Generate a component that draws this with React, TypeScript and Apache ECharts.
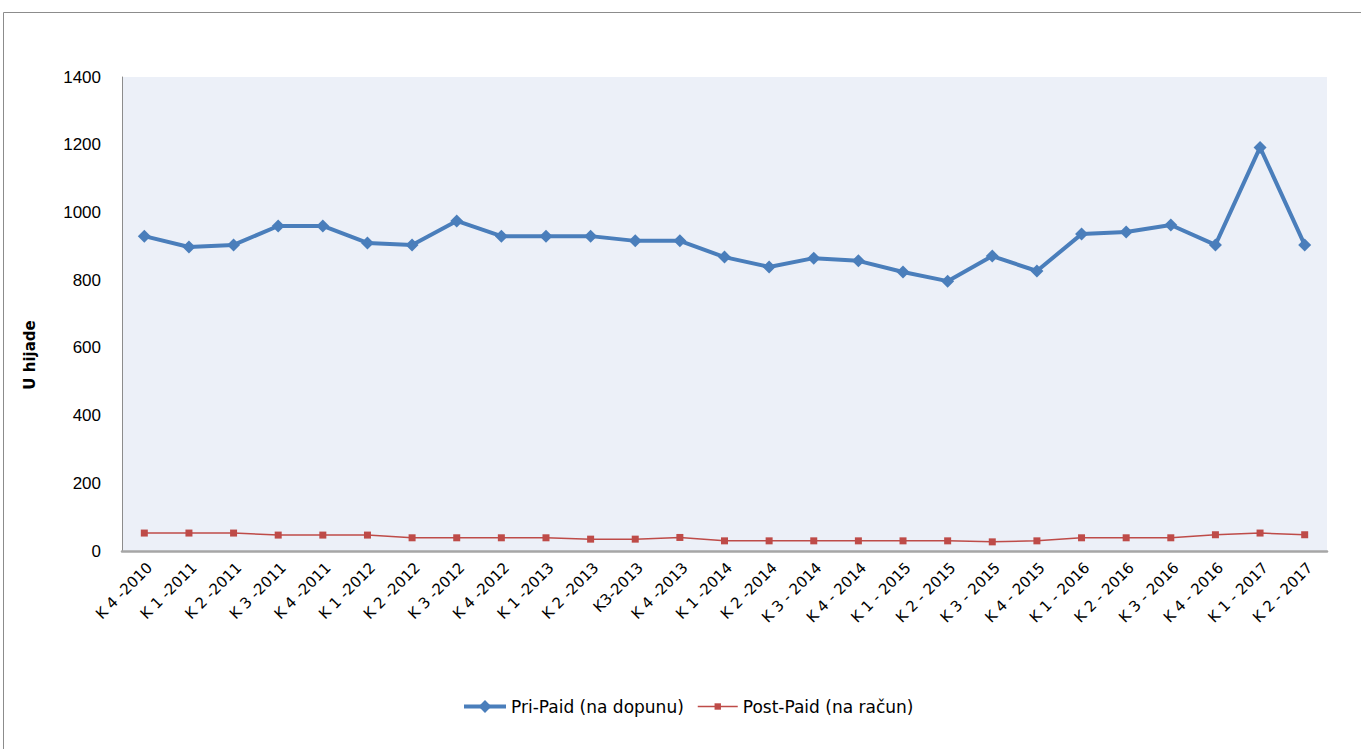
import React, { useEffect, useRef } from "react";
import * as echarts from "echarts";

const categories = [
  "K 4 -2010", "K 1 -2011", "K 2 -2011", "K 3 -2011", "K 4 -2011",
  "K 1 -2012", "K 2 -2012", "K 3 -2012", "K 4 -2012", "K 1 -2013",
  "K 2 -2013", "K3-2013", "K 4 -2013", "K 1 -2014", "K 2 -2014",
  "K 3 - 2014", "K 4 - 2014", "K 1 - 2015", "K 2 - 2015", "K 3 - 2015",
  "K 4 - 2015", "K 1 - 2016", "K 2 - 2016", "K 3 - 2016", "K 4 - 2016",
  "K 1 - 2017", "K 2 - 2017",
];

const priPaid = [
  930, 898, 904, 960, 960, 910, 904, 975, 930, 930, 930, 916, 916, 868, 839,
  865, 857, 824, 797, 871, 827, 936, 942, 963, 904, 1192, 904,
];

const postPaid = [
  53, 53, 53, 47, 47, 47, 39, 39, 39, 39, 35, 35, 40, 30, 30,
  30, 30, 30, 30, 27, 30, 39, 39, 39, 48, 53, 48,
];

const yTicks = [0, 200, 400, 600, 800, 1000, 1200, 1400];

const seriesNames = ["Pri-Paid (na dopunu)", "Post-Paid (na račun)"];

const FONT = "DejaVu Sans, Liberation Sans, sans-serif";
const BLUE = "#4a7ebb";
const RED = "#be4b48";

export default function App() {
  const ref = useRef<HTMLDivElement>(null);

  useEffect(() => {
    if (!ref.current) return;
    const chart = echarts.init(ref.current, undefined, { renderer: "svg" });
    const legendText = { fontSize: 17, color: "#000", fontFamily: FONT };
    chart.setOption({
      animation: false,
      backgroundColor: "#ffffff",
      textStyle: { fontFamily: FONT },
      grid: {
        left: 122,
        top: 77,
        right: 34,
        bottom: 198,
        show: true,
        backgroundColor: "#ecf0f8",
        borderWidth: 0,
      },
      graphic: [
        {
          type: "rect",
          shape: { x: 3.5, y: 12.5, width: 1370, height: 760 },
          style: { fill: "none", stroke: "#8c8c8c", lineWidth: 1 },
          silent: true,
          z: -1,
        },
        {
          type: "text",
          x: 30,
          y: 355,
          rotation: Math.PI / 2,
          style: {
            text: "U hijade",
            fontFamily: FONT,
            fontSize: 15,
            fontWeight: "bold",
            fill: "#000",
            align: "center",
            verticalAlign: "middle",
          },
        },
      ],
      legend: [
        {
          left: 457,
          top: 693,
          itemWidth: 42,
          itemHeight: 16,
          textStyle: legendText,
          data: [
            {
              name: seriesNames[0],
              lineStyle: { width: 4, color: BLUE },
              itemStyle: { color: BLUE },
            },
          ],
        },
        {
          left: 692,
          top: 693,
          itemWidth: 40,
          itemHeight: 8,
          textStyle: legendText,
          data: [
            {
              name: seriesNames[1],
              lineStyle: { width: 1.5, color: RED },
              itemStyle: { color: RED },
            },
          ],
        },
      ],
      xAxis: {
        type: "category",
        data: categories,
        boundaryGap: true,
        axisLine: { show: true, lineStyle: { color: "#a6a6a6", width: 2.5 } },
        axisTick: { show: false },
        splitLine: { show: false },
        axisLabel: {
          rotate: 45,
          interval: 0,
          fontSize: 15,
          color: "#000",
          margin: 9,
          align: "right",
          verticalAlign: "top",
          fontFamily: FONT,
        },
      },
      yAxis: {
        type: "value",
        min: 0,
        max: 1400,
        interval: 200,
        axisLine: { show: true, lineStyle: { color: "#8c8c8c", width: 1 } },
        axisTick: { show: false },
        splitLine: { show: false },
        axisLabel: {
          fontSize: 17,
          color: "#000",
          margin: 21,
          fontFamily: "Liberation Sans, Arial, sans-serif",
          formatter: (v: number) => (yTicks.includes(v) ? String(v) : ""),
        },
      },
      series: [
        {
          name: seriesNames[0],
          type: "line",
          data: priPaid,
          symbol: "diamond",
          symbolSize: 13,
          lineStyle: { color: BLUE, width: 4 },
          itemStyle: { color: BLUE },
          z: 3,
        },
        {
          name: seriesNames[1],
          type: "line",
          data: postPaid,
          symbol: "rect",
          symbolSize: 7,
          lineStyle: { color: RED, width: 1.5 },
          itemStyle: { color: RED },
          z: 2,
        },
      ],
    });
    return () => chart.dispose();
  }, []);

  return (
    <div
      ref={ref}
      style={{ position: "fixed", left: 0, top: 0, width: 1361, height: 749 }}
    />
  );
}
